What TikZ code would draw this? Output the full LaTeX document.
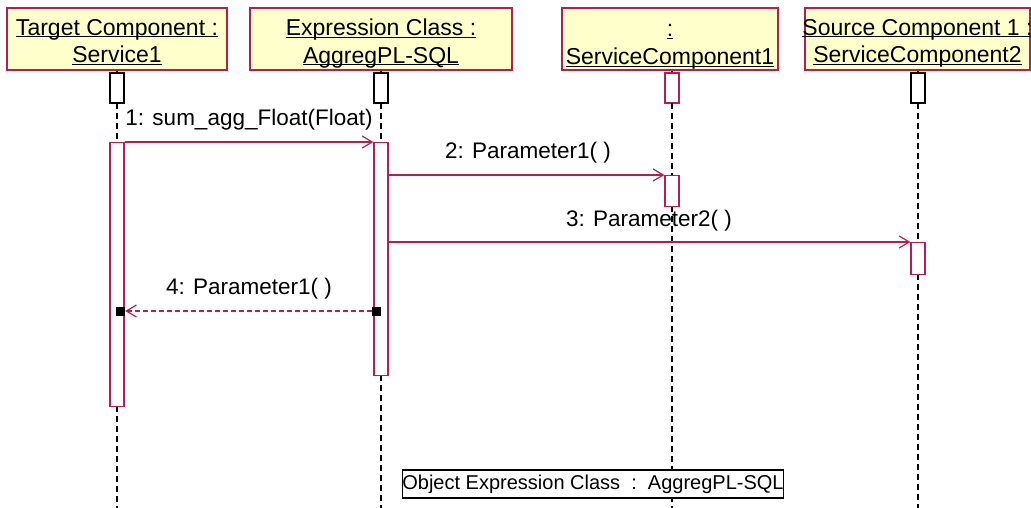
\documentclass[tikz,border=0pt]{standalone}
\usepackage{fontspec}
\setmainfont{Liberation Sans}
\usetikzlibrary{arrows.meta}
\definecolor{crim}{RGB}{178,32,82}
\definecolor{hdrfill}{RGB}{255,255,204}
\newcommand\ulx[1]{\underline{\raisebox{0pt}[\height][0pt]{#1}}}
\tikzset{
  hdr/.style={draw=crim, fill=hdrfill, line width=1.3pt, inner sep=0pt, minimum height=62pt},
  hdrtext/.style={inner sep=0pt, align=center, font=\fontsize{23}{27.5}\selectfont},
  smallbox/.style={draw=black, fill=white, line width=1.3pt, inner sep=0pt, minimum width=14pt, minimum height=30pt},
  act/.style={draw=crim, fill=white, line width=1.3pt, inner sep=0pt, minimum width=14pt, anchor=north},
  msg/.style={draw=crim, line width=1.3pt, -{Straight Barb[length=10pt,width=12pt,line width=1.2pt]}},
  ret/.style={draw=crim, line width=1.3pt, dash pattern=on 5pt off 3pt, -{Straight Barb[length=10pt,width=12pt,line width=1.2pt]}},
  life/.style={draw=black, line width=1.3pt, dash pattern=on 6pt off 4pt},
  link/.style={draw=black, line width=1.3pt},
  sq/.style={fill=black, inner sep=0pt, minimum size=9pt},
  lbl/.style={inner sep=0pt, font=\fontsize{22.5}{26}\selectfont},
  notebox/.style={draw=black, fill=white, line width=1.3pt, inner sep=0pt, minimum width=380pt, minimum height=28pt,
    font=\fontsize{20}{24}\selectfont}
}
\begin{document}
\begin{tikzpicture}[x=1pt,y=-1pt]
\useasboundingbox (0,0) rectangle (1031,508);

% headers
\node[hdr, minimum width=220pt] (h1) at (117,39) {};
\node[hdrtext] (t1) at (117,42) {\ulx{Target Component :}\\\ulx{Service1}};
\node[hdr, minimum width=262pt] (h2) at (381,39) {};
\node[hdrtext] (t2) at (381,42) {\ulx{Expression Class :}\\\ulx{AggregPL-SQL}};
\node[hdr, minimum width=216pt] (h3) at (670,39) {};
\node[hdrtext] (t3) at (670,42) {\ulx{\strut:}\\\ulx{ServiceComponent1}};
\node[hdr, minimum width=225pt] (h4) at (917.5,39) {};
\node[hdrtext] (t4) at (917.5,42) {\ulx{Source Component 1 :}\\\ulx{ServiceComponent2}};

% small boxes
\node[smallbox] (s1) at (117,88) {};
\node[smallbox] (s2) at (381,88) {};
\node[smallbox, draw=crim] (s3) at (672,88) {};
\node[smallbox] (s4) at (918,88) {};

% end points of lifelines
\coordinate (e1) at (117,508);
\coordinate (e2) at (381,508);
\coordinate (e3) at (672,508);
\coordinate (e4) at (918,508);

% lifelines
\draw[link] (h1.south -| s1) -- (s1.north);
\draw[link] (h2.south -| s2) -- (s2.north);
\draw[link] (h3.south -| s3) -- (s3.north);
\draw[link] (h4.south -| s4) -- (s4.north);
\draw[life] (117,103) -- (117,142);
\draw[life] (117,406) -- (e1);
\draw[life] (381,103) -- (381,142);
\draw[life] (381,375) -- (e2);
\draw[life] (672,103) -- (672,175);
\draw[life] (672,206) -- (e3);
\draw[life] (918,103) -- (918,242);
\draw[life] (918,274) -- (e4);

% activations
\node[act, minimum height=264pt] (a1) at (117,142) {};
\node[act, minimum height=233pt] (a2) at (381,142) {};
\node[act, minimum height=31pt] (a3) at (672,175) {};
\node[act, minimum height=32pt] (a4) at (918,242) {};

% messages
\draw[msg] (a1.north east) -- (a2.north west);
\node[lbl] (l1) at (249,120) {1: sum\_agg\_Float(Float)};
\draw[msg] (a2.east |- a3.north) -- (a3.north west);
\node[lbl] (l2) at (528,153) {2: Parameter1( )};
\draw[msg] (a2.east |- a4.north) -- (a4.north west);
\node[lbl] (l3) at (649,221) {3: Parameter2( )};

% return
\node[sq] (q2) at (376.5,311) {};
\node[sq] (q1) at (120.5,311) {};
\draw[ret] (q2.west) -- (q1.east);
\node[lbl] (l4) at (249,289) {4: Parameter1( )};

% note
\node[notebox] (note) at (593,484) {Object Expression Class\ \ :\ \ AggregPL-SQL};
\end{tikzpicture}
\end{document}
